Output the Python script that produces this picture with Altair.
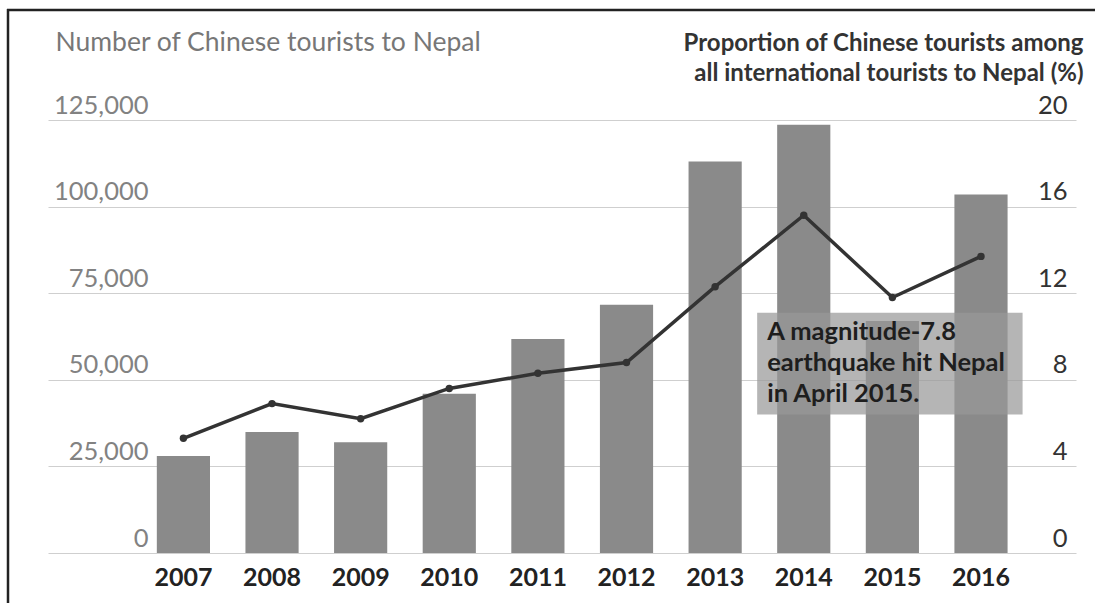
import altair as alt
import pandas as pd

years = ["2007", "2008", "2009", "2010", "2011", "2012", "2013", "2014", "2015", "2016"]
tourists = [28000, 34900, 32000, 46000, 61800, 71700, 113000, 123600, 67000, 103500]
share_pct = [5.3, 6.9, 6.2, 7.6, 8.3, 8.8, 12.3, 15.6, 11.8, 13.7]

left_title = "Number of Chinese tourists to Nepal"
right_title = ["Proportion of Chinese tourists among", "all international tourists to Nepal (%)"]
note_text = "A magnitude-7.8\nearthquake hit Nepal\nin April 2015."
note_start, note_end = "2014", "2016"
note_top, note_bottom, note_text_y = 11.1, 6.4, 10.76

df = pd.DataFrame({"year": years, "tourists": tourists, "share": share_pct})
note_df = pd.DataFrame({"start": [note_start], "end": [note_end], "top": [note_top],
                        "bottom": [note_bottom], "ty": [note_text_y], "label": [note_text]})

W, H = 1028, 433
FONT = "Lato"

x_scale = alt.Scale(paddingInner=0.4, paddingOuter=1.0, align=0.614)
x_axis = alt.Axis(title=None, domain=False, ticks=False, labelAngle=0,
                  labelFont=FONT, labelFontSize=25, labelFontWeight="bold",
                  labelColor="#222", labelPadding=12)
pct_scale = alt.Scale(domain=[0, 20], nice=False, zero=True)

bars = alt.Chart(df).mark_bar(color="#8a8a8a").encode(
    x=alt.X("year:N", scale=x_scale, sort=years, axis=x_axis),
    y=alt.Y("tourists:Q", scale=alt.Scale(domain=[0, 125000], nice=False),
            axis=alt.Axis(orient="left", values=[0, 25000, 50000, 75000, 100000, 125000],
                          format=",d", domain=False, ticks=False, grid=True,
                          gridColor="#cfcfcf", gridWidth=1,
                          labelAlign="right", labelPadding=-100, labelBaseline="alphabetic",
                          labelOffset=-7, labelFlush=False, labelOverlap=False, labelBound=False,
                          labelFont=FONT, labelFontSize=25.5, labelColor="#828282",
                          title=left_title, titleAngle=0, titleAlign="left", titleX=7, titleY=-78,
                          titleBaseline="middle", titleFont=FONT, titleFontSize=26.5,
                          titleFontWeight="normal", titleColor="#777777")),
)

box = alt.Chart(note_df).mark_rect(color="#999999", opacity=0.72, xOffset=-20, x2Offset=15).encode(
    x=alt.X("start:N", bandPosition=0, sort=years, axis=x_axis),
    x2=alt.X2("end:N", bandPosition=1),
    y=alt.Y("top:Q", scale=pct_scale, axis=None),
    y2="bottom:Q",
)

note = alt.Chart(note_df).mark_text(align="left", baseline="top", font=FONT, fontSize=25.5,
                                    fontWeight="bold", color="#1e1e1e", lineHeight=31,
                                    lineBreak="\n", xOffset=-10).encode(
    x=alt.X("start:N", bandPosition=0, sort=years, axis=x_axis),
    y=alt.Y("ty:Q", scale=pct_scale, axis=None),
    text="label:N",
)

line = alt.Chart(df).mark_line(color="#333333", strokeWidth=3.5,
                               point=alt.OverlayMarkDef(filled=True, size=55, color="#333333")).encode(
    x=alt.X("year:N", sort=years, axis=x_axis),
    y=alt.Y("share:Q", scale=pct_scale,
            axis=alt.Axis(orient="right", values=[0, 4, 8, 12, 16, 20], domain=False, ticks=False,
                          grid=False, labelAlign="right", labelPadding=-9,
                          labelBaseline="alphabetic", labelOffset=-7, labelFlush=False,
                          labelOverlap=False, labelBound=False,
                          labelFont=FONT, labelFontSize=25.5, labelColor="#333333",
                          title=right_title, titleAngle=0, titleAlign="right", titleX=7,
                          titleY=-89, titleBaseline="top", titleLineHeight=30,
                          titleFont=FONT, titleFontSize=24, titleFontWeight="bold",
                          titleColor="#333333")),
)

frame_left = alt.Chart(pd.DataFrame({"a": [0]})).mark_rule(color="#222222", strokeWidth=2.5).encode(
    x=alt.value(-40), y=alt.value(-111), y2=alt.value(H + 120)
)
frame_top = alt.Chart(pd.DataFrame({"a": [0]})).mark_rule(color="#222222", strokeWidth=2.5).encode(
    x=alt.value(-41), x2=alt.value(W + 80), y=alt.value(-110)
)

chart = alt.layer(bars, box, note, line, frame_left, frame_top).resolve_scale(y="independent").properties(
    width=W, height=H,
    autosize=alt.AutoSizeParams(type="none"),
    padding={"left": 48, "top": 120, "right": 1095 - 48 - W, "bottom": 603 - 120 - H},
    background="white",
).configure_view(stroke=None)

chart.save("out.html", embed_options={"renderer": "svg", "actions": False})
